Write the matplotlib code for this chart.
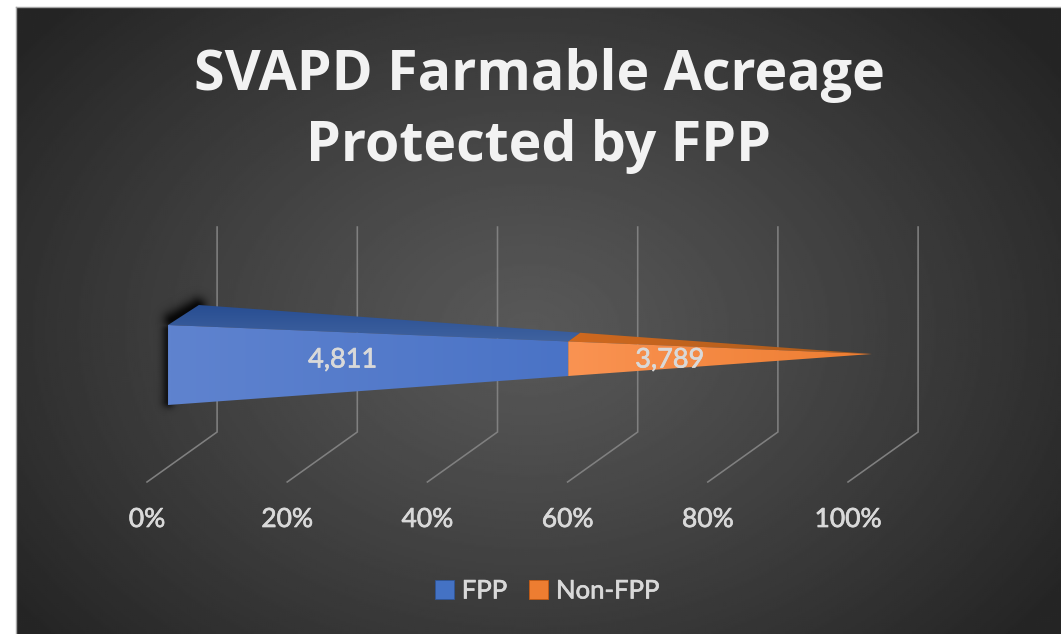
import numpy as np
import matplotlib
matplotlib.use("Agg")
import matplotlib.pyplot as plt
import matplotlib.patheffects as pe
from matplotlib.patches import Patch, Polygon

series_names = ["FPP", "Non-FPP"]
series_values = [4811, 3789]
tick_values = [0, 20, 40, 60, 80, 100]
title_lines = ["SVAPD Farmable Acreage", "Protected by FPP"]
label_centres = [27.9, 74.6]  # label placement along the axis, percent

W, H = 1061, 634
PX = 7.01            # pixels per percent on the front floor edge
DEPTH_X = 10.0       # percent
FLOOR_Y, BACK_Y, TOP_Y = 482, 432, 227
GRID = "#808080"
TEXT = "#d9d9d9"
THICK = [pe.withStroke(linewidth=0.5, foreground=TEXT)]

fig = plt.figure(figsize=(W / 100, H / 100), dpi=100, facecolor="white")
plt.rcParams["font.family"] = ["Lato", "DejaVu Sans"]

# background
bg = fig.add_axes([16 / W, 0, 1 - 16 / W, (H - 7) / H])
yy, xx = np.mgrid[7:634:314j, 16:1061:524j]
r = np.sqrt(((xx - 530) / 640) ** 2 + ((yy - 330) / 470) ** 2)
v = 0x58 - (0x58 - 0x25) * np.clip(r, 0, 1) ** 1.15
bg.imshow(v, cmap="gray", vmin=0, vmax=255, aspect="auto", extent=(16, 1061, 634, 7))
bg.set_xlim(16, 1061)
bg.set_ylim(634, 7)
bg.axis("off")
fig.add_artist(plt.Line2D([16 / W, 1], [1 - 6.5 / H] * 2, color="#a6a6a6", lw=1))
fig.add_artist(plt.Line2D([15.5 / W] * 2, [0, 1 - 6.5 / H], color="#a6a6a6", lw=1))

# main axis: x in percent, y in screen rows
ax = fig.add_axes([147 / W, (H - FLOOR_Y) / H, 701 / W, (FLOOR_Y - TOP_Y) / H])
ax.patch.set_visible(False)
for s in ax.spines.values():
    s.set_visible(False)


def shade(poly, c0, c1, vertical=False, z=3):
    """Fill a polygon with a linear gradient between two colours."""
    poly = np.array(poly, dtype=float)
    c0 = np.array(matplotlib.colors.to_rgb(c0))
    c1 = np.array(matplotlib.colors.to_rgb(c1))
    t = np.linspace(0, 1, 64)
    grad = (c0[None, :] * (1 - t[:, None]) + c1[None, :] * t[:, None])
    img = grad[:, None, :] if vertical else grad[None, :, :]
    x0, x1, y0, y1 = poly[:, 0].min(), poly[:, 0].max(), poly[:, 1].min(), poly[:, 1].max()
    im = ax.imshow(img, extent=(x0, x1, y1, y0), aspect="auto", zorder=z,
                   interpolation="bilinear", origin="upper")
    clip = Polygon(poly, closed=True, transform=ax.transData, fc="none", ec="none", clip_on=False)
    ax.add_patch(clip)
    im.set_clip_box(fig.bbox)
    im.set_clip_path(clip)


# gridlines
for t in tick_values:
    ax.plot([t, t + DEPTH_X, t + DEPTH_X], [FLOOR_Y, BACK_Y, TOP_Y], color=GRID,
            lw=1.15, clip_on=False, zorder=1, solid_joinstyle="miter")

# cone geometry
shares = np.cumsum(series_values) / np.sum(series_values) * 100
x_base = 3.0
x_tip = 103.4
front_scale = 1.0207
x_split = x_base + shares[0] * front_scale
x_top = x_base + 4.4
top_row, upper_row, lower_row, tip_row = 305, 325, 405, 354


def edge(x, xa, ya):
    return ya + (tip_row - ya) * (x - xa) / (x_tip - xa)


sf_t = edge(x_split, x_base, upper_row)
sf_b = edge(x_split, x_base, lower_row)
x_split_top = x_split + 1.7
st_t = edge(x_split_top, x_top, top_row)

# soft shadow behind the base
gy, gx = np.mgrid[270:440:170j, 125:225:100j]


def seg_dist(ax_, ay, bx, by):
    dx, dy = bx - ax_, by - ay
    u = np.clip(((gx - ax_) * dx + (gy - ay) * dy) / (dx * dx + dy * dy), 0, 1)
    return np.hypot(gx - ax_ - u * dx, gy - ay - u * dy)


alpha = np.maximum(0.7 * np.exp(-(seg_dist(168, 330, 168, 402) / 6.5) ** 2),
                   0.88 * np.exp(-(seg_dist(172, 320, 197, 306) / 9.0) ** 2))
rgba = np.zeros(gx.shape + (4,))
rgba[..., 3] = alpha
ax.imshow(rgba, extent=((125 - 147) / PX, (225 - 147) / PX, 440, 270), aspect="auto", zorder=2,
          interpolation="bilinear")

# cone faces
shade([(x_base, upper_row), (x_top, top_row), (x_split_top, st_t), (x_split, sf_t)],
      "#274d92", "#3f629f", vertical=True)
shade([(x_split, sf_t), (x_split_top, st_t), (x_tip, tip_row)], "#d0691f", "#a85a1c")
shade([(x_base, upper_row), (x_split, sf_t), (x_split, sf_b), (x_base, lower_row)],
      "#5f83cf", "#4a73c6")
shade([(x_split, sf_t), (x_tip, tip_row), (x_split, sf_b)], "#fa9352", "#ed7d31")

# data labels
for xc, val in zip(label_centres, series_values):
    ax.text(xc, 360, f"{val:,}", color=TEXT, fontsize=19.5, ha="center", va="center", zorder=6,
            path_effects=THICK)

# axis
ax.set_xlim(0, 100)
ax.set_ylim(FLOOR_Y, TOP_Y)
ax.set_yticks([])
ax.set_xticks(tick_values)
ax.set_xticklabels([f"{t}%" for t in tick_values], path_effects=THICK)
ax.tick_params(axis="x", length=0, pad=18, labelsize=19, labelcolor=TEXT)

# legend
handles = [Patch(facecolor="#4472c4", edgecolor="#2f5597", lw=0.6, label=series_names[0]),
           Patch(facecolor="#ed7d31", edgecolor="#c55a11", lw=0.6, label=series_names[1])]
leg = fig.legend(handles=handles, loc="center", bbox_to_anchor=(547.5 / W, 1 - 591 / H), ncol=2,
                 frameon=False, fontsize=18.5, labelcolor=TEXT, handlelength=0.74,
                 handleheight=0.74, handletextpad=0.3, columnspacing=0.85, borderpad=0)
for txt in leg.get_texts():
    txt.set_path_effects(THICK)

# title
for line, row in zip(title_lines, [90, 161]):
    fig.text(539 / W, 1 - row / H, line, color="#f2f2f2", fontsize=40, fontweight="bold",
             family=["Open Sans", "DejaVu Sans"], ha="center", va="baseline")

fig.savefig("out.png", dpi=100, facecolor="white")
